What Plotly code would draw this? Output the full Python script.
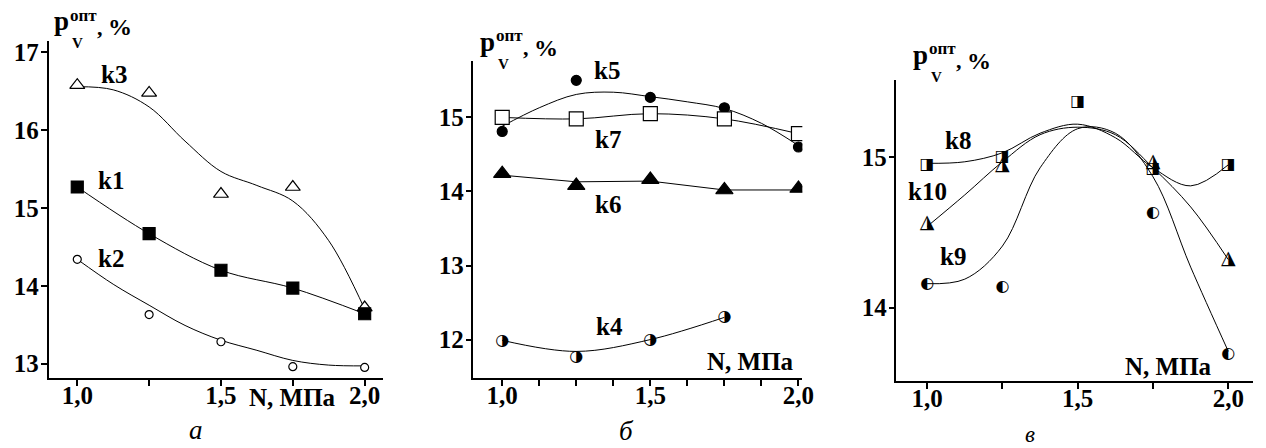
import plotly.graph_objects as go

W, H = 1266, 448

# ---------------- data ----------------
x5 = [1.0, 1.25, 1.5, 1.75, 2.0]
x9 = [1.0, 1.125, 1.25, 1.375, 1.5, 1.625, 1.75, 1.875, 2.0]
x4 = [1.0, 1.25, 1.75, 2.0]

# panel а
k1 = [15.27, 14.67, 14.20, 13.97, 13.64]
k2 = [14.34, 13.63, 13.28, 12.96, 12.95]
k2_fit = [14.34, 14.02, 13.75, 13.49, 13.30, 13.17, 13.04, 12.98, 12.97]
k3 = [16.58, 16.48, 15.18, 15.27, 13.72]
k3_fit = [16.56, 16.52, 16.30, 15.86, 15.47, 15.29, 15.09, 14.58, 13.70]

# panel б
k4_x = [1.0, 1.25, 1.5, 1.75]
k4 = [11.98, 11.76, 12.00, 12.30]
k4_fit = [11.99, 11.84, 12.00, 12.30]
k5 = [14.81, 15.50, 15.27, 15.13, 14.60]
k5_fit = [14.88, 15.13, 15.31, 15.34, 15.28, 15.21, 15.12, 14.92, 14.62]
k6 = [14.24, 14.08, 14.16, 14.02, 14.04]
k6_fit = [14.22, 14.13, 14.14, 14.02, 14.02]
k7 = [15.00, 14.98, 15.05, 14.98, 14.78]

# panel в
k8 = [14.95, 15.00, 15.37, 14.92, 14.95]
k8_fit = [14.96, 14.97, 15.03, 15.16, 15.22, 15.13, 14.93, 14.81, 14.95]
k9 = [14.16, 14.14, 14.63, 13.69]
k9_fit = [14.16, 14.19, 14.41, 14.93, 15.19, 15.16, 14.87, 14.27, 13.71]
k10 = [14.56, 14.95, 14.97, 14.32]
k10_fit = [14.54, 14.75, 14.97, 15.15, 15.20, 15.15, 14.93, 14.67, 14.32]

xtick_vals = [1.0, 1.25, 1.5, 1.75, 2.0]
xtick_text = ["1,0", "", "1,5", "", "2,0"]

SERIF = "Liberation Serif"
BLK = "black"
FS = 25

fig = go.Figure()


def line(x, y, xa, ya, shape="spline"):
    fig.add_trace(go.Scatter(x=x, y=y, mode="lines", xaxis=xa, yaxis=ya,
                             line=dict(color=BLK, width=1, shape=shape, smoothing=1.0),
                             showlegend=False, hoverinfo="skip"))


def mark(x, y, xa, ya, symbol, size, fill=BLK, lw=1.2):
    fig.add_trace(go.Scatter(x=x, y=y, mode="markers", xaxis=xa, yaxis=ya,
                             marker=dict(symbol=symbol, size=size, color=fill,
                                         line=dict(color=BLK, width=lw)),
                             showlegend=False))


def glyph(x, y, xa, ya, ch, size):
    fig.add_trace(go.Scatter(x=x, y=y, mode="text", xaxis=xa, yaxis=ya,
                             text=[ch] * len(x), textposition="middle center",
                             textfont=dict(family="DejaVu Sans", size=size, color=BLK),
                             showlegend=False))


# panel а
line(x9, k3_fit, "x", "y")
line(x5, k1, "x", "y")
line(x9, k2_fit, "x", "y")
mark(x5, k3, "x", "y", "triangle-up", 13, fill="white")
mark(x5, k1, "x", "y", "square", 12)
mark(x5, k2, "x", "y", "circle", 8, fill="white")

# panel б
line(x9, k5_fit, "x2", "y2")
line(x5, k7, "x2", "y2")
line(x5, k6_fit, "x2", "y2", shape="linear")
line(k4_x, k4_fit, "x2", "y2")
mark(x5, k5, "x2", "y2", "circle", 10)
mark(x5, k7, "x2", "y2", "square", 14, fill="white")
mark(x5, k6, "x2", "y2", "triangle-up", 15)
glyph(k4_x, k4, "x2", "y2", "◑", 16)

# panel в
line(x9, k8_fit, "x3", "y3")
line(x9, k10_fit, "x3", "y3")
line(x9, k9_fit, "x3", "y3")
glyph(x5, k8, "x3", "y3", "◨", 16)
glyph(x4, k10, "x3", "y3", "◮", 19)
glyph(x4, k9, "x3", "y3", "◐", 16)


def px(x):
    return x / W


def py(y):
    return 1 - y / H


axis_common = dict(showline=True, linecolor=BLK, linewidth=1.5, ticks="outside",
                   ticklen=6, tickwidth=1.5, tickcolor=BLK, showgrid=False,
                   zeroline=False, mirror=False,
                   tickfont=dict(family=SERIF, size=FS, color=BLK, weight="bold"))
xstand = dict(ticklabelstandoff=-12)
ystand = dict(ticklabelstandoff=-3)

fig.update_layout(
    width=W, height=H, margin=dict(l=0, r=0, t=0, b=0),
    paper_bgcolor="white", plot_bgcolor="white",
    xaxis=dict(domain=[px(49), px(387)], range=[0.90, 2.065], anchor="y",
               tickvals=xtick_vals, ticktext=xtick_text, **xstand, **axis_common),
    yaxis=dict(domain=[py(378), py(39)], range=[12.81, 17.15], anchor="x",
               tickvals=[13, 14, 15, 16, 17], **ystand, **axis_common),
    xaxis2=dict(domain=[px(478), px(810)], range=[0.903, 2.013], anchor="y2",
                tickvals=xtick_vals, ticktext=xtick_text,
                minor=dict(dtick=0.125, tick0=1.0, ticks="outside", ticklen=6,
                           tickwidth=1.5, tickcolor=BLK),
                **xstand, **axis_common),
    yaxis2=dict(domain=[py(378), py(59)], range=[11.477, 15.765], anchor="x2",
                tickvals=[12, 13, 14, 15], **ystand, **axis_common),
    xaxis3=dict(domain=[px(905), px(1265)], range=[0.898, 2.082], anchor="y3",
                tickvals=xtick_vals, ticktext=xtick_text, **xstand, **axis_common),
    yaxis3=dict(domain=[py(381), py(78)], range=[13.511, 15.516], anchor="x3",
                tickvals=[14, 15], **ystand, **axis_common),
)

ann = []


def text(x, base, s, size=FS, bold=True, italic=False, xanchor="center", pad=1):
    """Place text so that its baseline lies at pixel row `base`."""
    bottom = base + 0.216 * size + pad
    ann.append(dict(x=px(x), y=py(bottom), xref="paper", yref="paper", text=s,
                    showarrow=False, xanchor=xanchor, yanchor="bottom", borderpad=pad,
                    font=dict(family=SERIF, size=size, color=BLK,
                              weight="bold" if bold else "normal",
                              style="italic" if italic else "normal")))


def ytitle(x0, yb):
    text(x0 - 1, yb, "p", size=27, xanchor="left", pad=0)
    text(x0 + 15, yb - 9, "опт", size=17, xanchor="left", pad=0)
    text(x0 + 17, yb + 18, "V", size=15, xanchor="left", pad=0)
    text(x0 + 42, yb + 5, ",", size=22, xanchor="left", pad=0)
    text(x0 + 53, yb + 5, "%", size=24, xanchor="left", pad=0)


ytitle(55, 29)
ytitle(485, 50)
ytitle(922, 63)

# curve labels
text(115, 82, "k3")
text(112, 188, "k1")
text(112, 267, "k2")
text(613, 78, "k5")
text(614, 147, "k7")
text(614, 213, "k6")
text(615, 335, "k4")
text(967, 148, "k8")
text(936, 200, "k10")
text(962, 265, "k9")

# axis names
text(295, 406, "N, МПа")
text(758, 370, "N, МПа")
text(1180, 375, "N, МПа")

# panel letters
text(198, 440, "а", size=27, bold=False, italic=True)
text(632, 441, "б", size=27, bold=False, italic=True)
text(1040, 443, "в", size=23, bold=False, italic=True)

fig.update_layout(annotations=ann)

fig.write_html("out.html", config={"displayModeBar": False},
               post_script="document.body.style.margin='0';")
